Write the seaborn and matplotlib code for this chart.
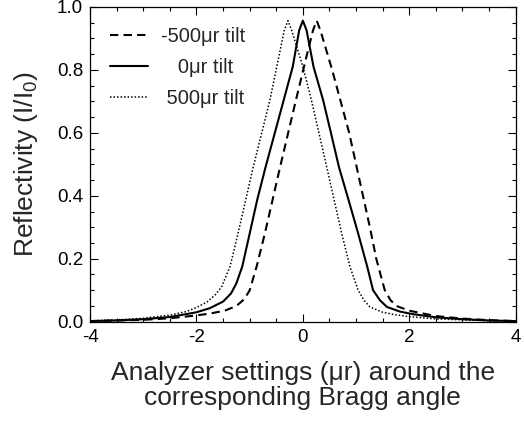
import numpy as np
import pandas as pd
import matplotlib
matplotlib.use("Agg")
import matplotlib.pyplot as plt
from matplotlib.ticker import MultipleLocator
import seaborn as sns

# -500 urad tilt (dashed)
x_neg = [-4, -3.5, -3, -2.5, -2, -1.75, -1.47, -1.25, -1.1, -1.0, -0.87, -0.715, -0.43, -0.13,
         0.05, 0.19, 0.26, 0.33, 0.55, 0.87, 1.13, 1.26, 1.38, 1.54, 1.65, 1.76, 2.0, 2.5, 3, 3.5, 4]
y_neg = [0.002, 0.004, 0.006, 0.011, 0.020, 0.026, 0.035, 0.050, 0.072, 0.10, 0.175, 0.28, 0.49, 0.704,
         0.83, 0.925, 0.956, 0.925, 0.80, 0.60, 0.40, 0.30, 0.20, 0.10, 0.068, 0.050, 0.035, 0.018,
         0.010, 0.005, 0.002]

# 0 urad tilt (solid)
x_zero = [-4, -3.5, -3, -2.5, -2, -1.75, -1.5, -1.35, -1.25, -1.14, -1.0, -0.86, -0.70, -0.53,
          -0.36, -0.19, -0.07, 0, 0.07, 0.20, 0.38, 0.53, 0.68, 0.86, 1.04, 1.21, 1.32, 1.45, 1.58,
          1.83, 2.07, 2.5, 3, 3.5, 4]
y_zero = [0.002, 0.004, 0.008, 0.015, 0.030, 0.043, 0.064, 0.090, 0.122, 0.175, 0.28, 0.386, 0.492, 0.598,
          0.704, 0.81, 0.925, 0.956, 0.925, 0.81, 0.704, 0.598, 0.49, 0.386, 0.28, 0.175, 0.10, 0.068,
          0.047, 0.032, 0.024, 0.014, 0.008, 0.004, 0.002]

# +500 urad tilt (dotted)
x_pos = [-4, -3.5, -3, -2.5, -2.2, -2.0, -1.8, -1.65, -1.53, -1.37, -1.22, -0.935, -0.62, -0.35,
         -0.28, -0.21, 0.0, 0.16, 0.45, 0.73, 0.885, 1.04, 1.15, 1.26, 1.5, 1.75, 2, 2.5, 3, 3.5, 4]
y_pos = [0.003, 0.006, 0.011, 0.021, 0.032, 0.045, 0.063, 0.085, 0.11, 0.175, 0.28, 0.49, 0.704, 0.925,
         0.956, 0.925, 0.81, 0.704, 0.49, 0.28, 0.175, 0.10, 0.068, 0.047, 0.030, 0.022, 0.016, 0.009,
         0.006, 0.003, 0.002]

labels = ["-500\u03bcr tilt", "   0\u03bcr tilt", " 500\u03bcr tilt"]

sns.set_style("ticks")
plt.rcParams["font.family"] = ["Liberation Sans", "DejaVu Sans"]
plt.rcParams["mathtext.default"] = "regular"

fig = plt.figure(figsize=(5.24, 4.25), dpi=100)
ax = fig.add_axes([0.172, 0.243, 0.812, 0.741])

sns.lineplot(x=x_neg, y=y_neg, ax=ax, color="black", lw=1.5, label=labels[0],
             estimator=None, sort=False)
ax.lines[-1].set_dashes([4, 2.5])
sns.lineplot(x=x_zero, y=y_zero, ax=ax, color="black", lw=1.5, label=labels[1],
             estimator=None, sort=False)
sns.lineplot(x=x_pos, y=y_pos, ax=ax, color="black", lw=1.1, label=labels[2],
             estimator=None, sort=False, linestyle=(0, (1, 1.3)))

ax.set_xlim(-4, 4)
ax.set_ylim(0, 1.0)
ax.xaxis.set_major_locator(MultipleLocator(2))
ax.xaxis.set_minor_locator(MultipleLocator(0.5))
ax.yaxis.set_major_locator(MultipleLocator(0.2))
ax.yaxis.set_minor_locator(MultipleLocator(0.05))
ax.set_xticklabels([f"{v:g}" for v in ax.get_xticks()])
ax.set_yticklabels([f"{v:.1f}" for v in ax.get_yticks()])
ax.tick_params(which="both", direction="in", top=True, right=True, colors="black",
               labelsize=13.5, width=0.8)
ax.tick_params(which="major", length=6, pad=5)
ax.tick_params(which="minor", length=3)
for s in ax.spines.values():
    s.set_visible(True)
    s.set_color("black")
    s.set_linewidth(0.9)

ax.set_xlabel("Analyzer settings (\u03bcr) around the\ncorresponding Bragg angle",
              fontsize=19, labelpad=11, linespacing=1.05)
ax.set_ylabel("Reflectivity (I/I$_0$)", fontsize=19, labelpad=12)

leg = ax.legend(loc="upper left", frameon=False, fontsize=14.5, handlelength=1.85,
                handletextpad=0.65, borderaxespad=0.6, labelspacing=0.6)

fig.savefig("out.png", dpi=100)
